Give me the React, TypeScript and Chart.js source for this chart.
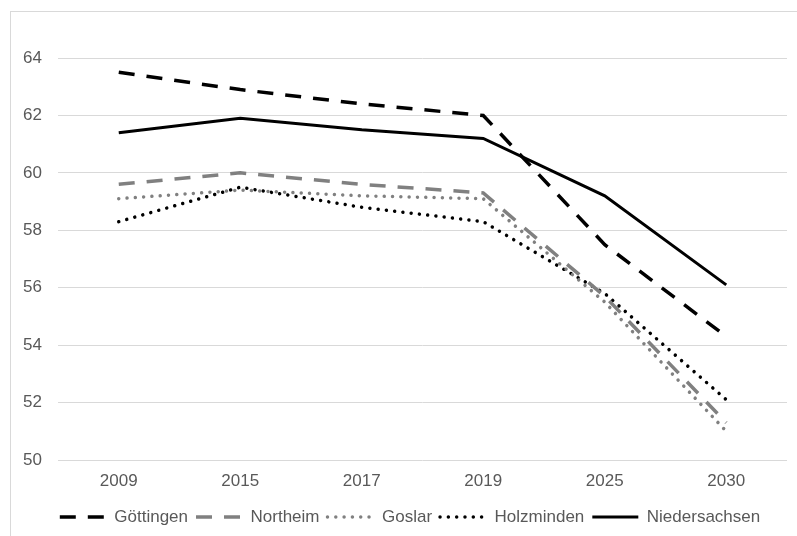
import React, { useEffect, useRef } from "react";
import { Chart, registerables } from "chart.js";

Chart.register(...registerables);

const years = ["2009", "2015", "2017", "2019", "2025", "2030"];
const goettingen = [63.5, 62.9, 62.4, 62.0, 57.5, 54.3];
const northeim = [59.6, 60.0, 59.6, 59.3, 55.7, 51.3];
const goslar = [59.1, 59.4, 59.2, 59.1, 55.5, 51.0];
const holzminden = [58.3, 59.5, 58.8, 58.3, 55.8, 52.1];
const niedersachsen = [61.4, 61.9, 61.5, 61.2, 59.2, 56.1];

const FONT = "'Liberation Sans', Arial, sans-serif";
const TEXT = "#595959";
const GRID = "#d9d9d9";
const GRAY = "#808080";

const shiftLegend = {
  id: "shiftLegend",
  afterLayout(chart: any) {
    const lg = chart.legend;
    if (lg) {
      lg.left += 11;
      lg.right += 11;
    }
  },
};

export default function App() {
  const ref = useRef<HTMLCanvasElement | null>(null);

  useEffect(() => {
    if (!ref.current) return;
    const dash = [16, 12];
    const dot = [0.01, 8.3];
    const chart = new Chart(ref.current, {
      type: "line",
      plugins: [shiftLegend],
      data: {
        labels: years,
        datasets: [
          { label: "Göttingen", data: goettingen, borderColor: "#000", borderWidth: 3.5, borderDash: dash, borderCapStyle: "butt" },
          { label: "Northeim", data: northeim, borderColor: GRAY, borderWidth: 3.5, borderDash: dash, borderCapStyle: "butt" },
          { label: "Goslar", data: goslar, borderColor: GRAY, borderWidth: 3.5, borderDash: dot, borderCapStyle: "round" },
          { label: "Holzminden", data: holzminden, borderColor: "#000", borderWidth: 3.5, borderDash: dot, borderCapStyle: "round" },
          { label: "Niedersachsen", data: niedersachsen, borderColor: "#000", borderWidth: 3, borderCapStyle: "butt" },
        ].map((d) => ({ ...d, pointRadius: 0, pointHoverRadius: 0, tension: 0, fill: false, backgroundColor: d.borderColor })),
      },
      options: {
        animation: false,
        responsive: false,
        devicePixelRatio: 1,
        layout: { padding: { top: 46, left: 0, right: 10, bottom: 16.5 } },
        plugins: {
          tooltip: { enabled: false },
          legend: {
            position: "bottom",
            labels: {
              usePointStyle: true,
              pointStyle: "line",
              pointStyleWidth: 46,
              padding: 8,
              color: TEXT,
              font: { family: FONT, size: 17 },
              generateLabels: (c: any) => {
                const items = Chart.defaults.plugins.legend.labels.generateLabels(c);
                return items.map((it: any) => {
                  const ds: any = c.data.datasets[it.datasetIndex];
                  return {
                    ...it,
                    pointStyle: "line",
                    strokeStyle: ds.borderColor,
                    fillStyle: ds.borderColor,
                    lineWidth: ds.borderWidth,
                    lineDash: ds.borderDash || [],
                    lineCap: ds.borderCapStyle,
                  };
                });
              },
            },
          },
        },
        scales: {
          x: {
            offset: true,
            grid: { display: false, drawTicks: false, offset: true },
            border: { display: false },
            ticks: { color: TEXT, font: { family: FONT, size: 17 }, padding: 11, maxRotation: 0 },
            afterFit: (s: any) => { s.height = 40.5; },
          },
          y: {
            min: 50,
            max: 64,
            grid: { color: GRID, lineWidth: 1, drawTicks: false },
            border: { display: false },
            ticks: { stepSize: 2, color: TEXT, font: { family: FONT, size: 17 }, padding: 16 },
            afterFit: (s: any) => { s.width = 47; },
          },
        },
      },
    });
    return () => chart.destroy();
  }, []);

  return (
    <div
      style={{
        position: "fixed",
        left: 10,
        top: 11,
        width: 786,
        height: 540,
        border: `1px solid ${GRID}`,
        background: "#fff",
      }}
    >
      <canvas ref={ref} width={786} height={540} style={{ display: "block", width: 786, height: 540 }} />
    </div>
  );
}
